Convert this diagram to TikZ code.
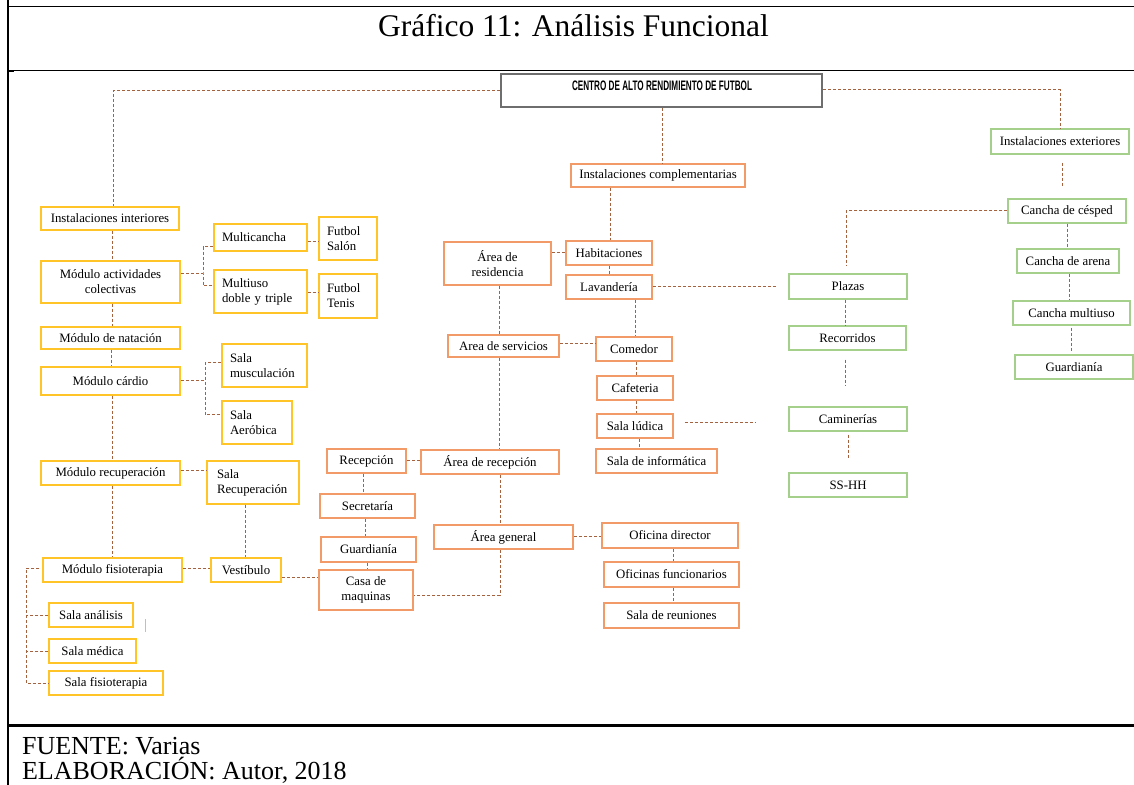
\documentclass[tikz,border=0pt]{standalone}
\usepackage{fontspec}
\usepackage{graphicx}
\setmainfont{Liberation Serif}
\newfontfamily\headfont{Liberation Sans}
\definecolor{ycol}{RGB}{255,196,40}
\definecolor{ocol}{RGB}{242,155,105}
\definecolor{gcol}{RGB}{165,208,140}
\definecolor{conc}{RGB}{165,98,62}
\definecolor{topc}{RGB}{110,110,110}
\newcommand\nf{\fontsize{6.4}{7.5}\selectfont}
% #1 opts, #2 style, #3 name, #4 x1, #5 y1, #6 x2, #7 y2, #8 text
\newcommand\bx[8][]{\node[#2,minimum width=\fpeval{(#6-#4)*0.5}pt,minimum height=\fpeval{(#7-#5)*0.5}pt,#1] (#3) at ({(#4+#6)/2},{(#5+#7)/2}) {#8};}
% #1 pad, left aligned text
\newcommand\lbx[8][8]{\node[#2,align=left,inner xsep=\fpeval{#1*0.5}pt,text width=\fpeval{(#6-#4-2*#1)*0.5}pt,minimum height=\fpeval{(#7-#5)*0.5}pt] (#3) at ({(#4+#6)/2},{(#5+#7)/2}) {#8};}
\tikzset{
  base/.style={draw, line width=0.75pt, fill=white, inner sep=0pt, font=\nf, align=center},
  ybox/.style={base, draw=ycol},
  obox/.style={base, draw=ocol},
  gbox/.style={base, draw=gcol},
  topbox/.style={draw=topc, line width=1pt, fill=white, inner sep=0pt},
  con/.style={draw=conc, line width=0.5pt, dash pattern=on 1.5pt off 1pt},
}
\begin{document}
\begin{tikzpicture}[x=0.5pt,y=-0.5pt]
\useasboundingbox (0,0) rectangle (1134,785);
% frame
\draw[line width=1.15pt] (7.8,0) -- (7.8,785);
\draw[line width=0.8pt] (7,6.5) -- (1134,6.5);
\draw[line width=0.5pt] (7,71) -- (1134,71);
\draw[line width=1.2pt] (7,71) -- (14,71);
\draw[line width=1.35pt] (7,725.7) -- (1134,725.7);
% title and footer
\node[anchor=base, inner sep=0pt] (title) at (573.5,37) {\fontsize{15.75}{18}\selectfont Gráfico 11: Análisis Funcional};
\node[anchor=base west, inner sep=0pt] (fuente) at (21.7,754) {\fontsize{13}{15}\selectfont FUENTE: Varias};
\node[anchor=base west, inner sep=0pt] (elab) at (21.7,779.5) {\fontsize{13}{15}\selectfont ELABORACIÓN: Autor, 2018};
% top
\bx{topbox}{top}{501}{74}{822}{107}{}
\node[inner sep=0pt] (toplabel) at (662,85.3) {\resizebox{90pt}{4.8pt}{\headfont\bfseries CENTRO DE ALTO RENDIMIENTO DE FUTBOL}};
% yellow
\bx{ybox}{ii}{41}{207}{179}{230}{Instalaciones interiores}
\bx{ybox}{mac}{41}{261}{180}{303}{Módulo actividades\\colectivas}
\lbx{ybox}{mc}{214}{224}{307}{251}{Multicancha}
\lbx{ybox}{mu}{214}{270}{307}{313}{Multiuso\\doble y triple}
\lbx{ybox}{fs}{319}{217}{377}{260}{Futbol\\Salón}
\lbx{ybox}{ft}{319}{274}{377}{318}{Futbol\\Tenis}
\bx{ybox}{mn}{41}{327}{180}{349}{Módulo de natación}
\bx{ybox}{mca}{41}{367}{180}{395}{Módulo cárdio}
\lbx{ybox}{smu}{222}{344}{307}{387}{Sala\\musculación}
\lbx{ybox}{sae}{222}{401}{292}{444}{Sala\\Aeróbica}
\bx{ybox}{mre}{41}{461}{180}{485}{Módulo recuperación}
\lbx[10]{ybox}{sre}{207}{461}{299}{504}{Sala\\Recuperación}
\bx{ybox}{mfi}{43}{558}{182}{582}{Módulo fisioterapia}
\bx{ybox}{ves}{211}{558}{281}{582}{Vestíbulo}
\bx{ybox}{san}{49}{603}{133}{627}{Sala análisis}
\bx{ybox}{sme}{49}{639}{136}{663}{Sala médica}
\bx{ybox}{sfi}{49}{671}{163}{695}{Sala fisioterapia}
% orange
\bx{obox}{ic}{571}{164}{745}{187}{Instalaciones complementarias}
\bx{obox}{are}{444}{242}{551}{285}{Área de\\residencia}
\bx{obox}{hab}{566}{241}{652}{265}{Habitaciones}
\bx{obox}{lav}{566}{275}{652}{299}{Lavandería}
\bx{obox}{ase}{448}{335}{559}{357}{Area de servicios}
\bx{obox}{com}{596}{337}{672}{361}{Comedor}
\bx{obox}{caf}{597}{376}{673}{400}{Cafeteria}
\bx{obox}{slu}{597}{414}{673}{438}{Sala lúdica}
\bx{obox}{sin}{596}{449}{717}{473}{Sala de informática}
\bx{obox}{arc}{421}{450}{559}{474}{Área de recepción}
\bx{obox}{rec}{327}{449}{406}{473}{Recepción}
\bx{obox}{sec}{320}{494}{415}{518}{Secretaría}
\bx{obox}{gua}{321}{537}{416}{562}{Guardianía}
\bx{obox}{cas}{319}{570}{413}{610}{Casa de\\maquinas}
\bx{obox}{age}{434}{525}{573}{549}{Área general}
\bx{obox}{odi}{602}{523}{738}{548}{Oficina director}
\bx{obox}{ofu}{604}{562}{739}{587}{Oficinas funcionarios}
\bx{obox}{srn}{604}{603}{739}{628}{Sala de reuniones}
% green
\bx{gbox}{ie}{991}{129}{1129}{154}{Instalaciones exteriores}
\bx{gbox}{cce}{1008}{199}{1126}{223}{Cancha de césped}
\bx{gbox}{car}{1017}{249}{1119}{273}{Cancha de arena}
\bx{gbox}{cmu}{1013}{301}{1130}{325}{Cancha multiuso}
\bx{gbox}{gu2}{1015}{355}{1133}{379}{Guardianía}
\bx{gbox}{pla}{789}{274}{907}{299}{Plazas}
\bx{gbox}{rco}{789}{326}{906}{350}{Recorridos}
\bx{gbox}{cam}{789}{407}{907}{431}{Caminerías}
\bx{gbox}{ssh}{789}{473}{907}{497}{SS-HH}
% junction coordinates
\coordinate (b1) at (203,274);
\coordinate (b2) at (205,381);
\coordinate (b3) at (26,568);
\coordinate (lx) at (755,423);
% connectors: top
\draw[con] (top.west |- 0,91) -| (ii.north -| 113,0);
\draw[con] (top.east |- 0,90) -| (ie.north -| 1060,0);
\draw[con] (top.south -| 662,0) -- (ic.north -| 662,0);
% interior
\draw[con] (ii.south -| 112,0) -- (mac.north -| 112,0);
\draw[con] (mac.east |- 0,274) -- (b1);
\draw[con] (mc.west |- 0,247) -| (b1) |- (mu.west |- 0,286);
\draw[con] (mc.east |- 0,242) -- (fs.west |- 0,242);
\draw[con] (mu.east |- 0,293) -- (ft.west |- 0,293);
\draw[con] (mac.south -| 112,0) -- (mn.north -| 112,0);
\draw[con] (mn.south -| 111,0) -- (mca.north -| 111,0);
\draw[con] (mca.east |- 0,381) -- (b2);
\draw[con] (smu.west |- 0,363) -| (b2) |- (sae.west |- 0,415);
\draw[con] (mca.south -| 112,0) -- (mre.north -| 112,0);
\draw[con] (mre.east |- 0,471) -- (sre.west |- 0,471);
\draw[con] (sre.south -| 245,0) -- (ves.north -| 245,0);
\draw[con] (mre.south -| 112,0) -- (mfi.north -| 112,0);
\draw[con] (mfi.east |- 0,568) -- (ves.west |- 0,568);
\draw[con] (ves.east |- 0,577) -- (cas.west |- 0,577);
\draw[con,shorten <=1.5pt] (mfi.west |- 0,568) -- (b3) |- (sfi.west);
\draw[con] (san.west) -- (san.west -| b3);
\draw[con] (sme.west) -- (sme.west -| b3);
\draw[gray!50, line width=0.5pt] (145,619) -- (145,632);
% complementarias
\draw[con] (ic.south -| 610,0) -- (hab.north -| 610,0);
\draw[con] (are.east |- 0,253) -- (hab.west |- 0,253);
\draw[con] (hab.south -| 609,0) -- (lav.north -| 609,0);
\draw[con,shorten >=5.5pt] (lav.east |- 0,287) -- (pla.west |- 0,287);
\draw[con] (lav.south -| 635,0) -- (com.north -| 635,0);
\draw[con] (are.south -| 499,0) -- (ase.north -| 499,0);
\draw[con] (ase.east |- 0,344) -- (com.west |- 0,344);
\draw[con] (com.south -| 636,0) -- (caf.north -| 636,0);
\draw[con] (caf.south -| 636,0) -- (slu.north -| 636,0);
\draw[con,shorten <=5.5pt] (slu.east |- 0,423) -- (lx);
\draw[con] (slu.south -| 639,0) -- (sin.north -| 639,0);
\draw[con] (ase.south -| 499,0) -- (arc.north -| 499,0);
\draw[con] (arc.west |- 0,461) -- (rec.east |- 0,461);
\draw[con] (rec.south -| 363,0) -- (sec.north -| 363,0);
\draw[con] (sec.south -| 365,0) -- (gua.north -| 365,0);
\draw[con] (gua.south -| 367,0) -- (cas.north -| 367,0);
\draw[con] (arc.south -| 500,0) -- (age.north -| 500,0);
\draw[con] (age.south -| 500,0) |- (cas.east |- 0,595);
\draw[con] (age.east |- 0,536) -- (odi.west |- 0,536);
\draw[con] (odi.south -| 673,0) -- (ofu.north -| 673,0);
\draw[con] (ofu.south -| 673,0) -- (srn.north -| 673,0);
% exteriores
\draw[con,shorten <=4pt,shorten >=5.5pt] (ie.south -| 1062,0) -- (cce.north -| 1062,0);
\draw[con,shorten >=3.5pt] (cce.west |- 0,211) -| (pla.north -| 846,0);
\draw[con] (cce.south -| 1067,0) -- (car.north -| 1067,0);
\draw[con] (car.south -| 1069,0) -- (cmu.north -| 1069,0);
\draw[con,shorten <=1pt,shorten >=1pt] (cmu.south -| 1071,0) -- (gu2.north -| 1071,0);
\draw[con] (pla.south -| 845,0) -- (rco.north -| 845,0);
\draw[con,shorten <=4.5pt,shorten >=10.5pt] (rco.south -| 845,0) -- (cam.north -| 845,0);
\draw[con,shorten <=1.5pt,shorten >=6.5pt] (cam.south -| 848,0) -- (ssh.north -| 848,0);
\end{tikzpicture}
\end{document}
